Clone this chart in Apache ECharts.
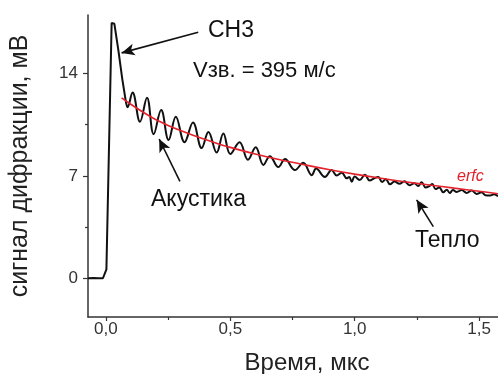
<!DOCTYPE html>
<html>
<head>
<meta charset="utf-8">
<script src="https://cdn.jsdelivr.net/npm/echarts@6/dist/echarts.min.js"></script>
<style>
  html, body { margin: 0; padding: 0; background: #fff; }
  #chart { width: 498px; height: 374px; }
</style>
</head>
<body>
<div id="chart"></div>
<script>
// импульс СН3 (время, мкс / сигнал, мВ)
var pulseTime  = [-0.072, -0.05, -0.03, -0.012, -0.004, 0.002, 0.023, 0.034, 0.05, 0.066, 0.08];
var pulseValue = [0, 0.02, 0, 0, 0.05, 0.6, 17.45, 17.4, 15.6, 13.6, 12.1];

// акустические колебания и тепловой хвост
var signalTime = [0.08, 0.087, 0.107, 0.137, 0.165, 0.192, 0.222, 0.252, 0.281, 0.316,
  0.35, 0.385, 0.412, 0.445, 0.472, 0.5, 0.537, 0.571, 0.602, 0.633,
  0.659, 0.693, 0.72, 0.76, 0.793, 0.827, 0.845, 0.88, 0.907, 0.928,
  0.948, 0.968, 0.978, 0.988, 1.0, 1.02, 1.041, 1.06, 1.08, 1.095,
  1.11, 1.125, 1.142, 1.16, 1.18, 1.2, 1.22, 1.24, 1.255, 1.269,
  1.285, 1.3, 1.312, 1.325, 1.34, 1.356, 1.37, 1.382, 1.395, 1.41,
  1.43, 1.45, 1.47, 1.49, 1.51, 1.525, 1.544, 1.56, 1.576];
var signalValue = [12.1, 11.7, 12.7, 10.7, 12.35, 9.85, 11.5, 9.45, 11.05, 9.3,
  10.65, 8.9, 10.0, 8.6, 9.9, 8.5, 9.3, 8.1, 8.95, 7.75,
  8.35, 7.6, 8.15, 7.4, 7.9, 7.05, 7.5, 6.93, 7.4, 7.02,
  7.22, 6.83, 6.92, 6.6, 6.95, 6.72, 7.08, 6.68, 6.85, 6.92,
  6.58, 6.77, 6.42, 6.62, 6.46, 6.64, 6.36, 6.5, 6.3, 6.57,
  6.2, 6.3, 6.44, 6.1, 6.2, 5.88, 6.05, 5.83, 6.03, 5.9,
  6.03, 5.83, 6.0, 5.76, 5.88, 5.68, 5.66, 5.75, 5.6];

// аппроксимация erfc
var fitTime  = [0.063, 0.1, 0.15, 0.2, 0.25, 0.3, 0.35, 0.4, 0.45, 0.5, 0.6, 0.7, 0.8, 0.9, 1.0, 1.1, 1.2, 1.3, 1.4, 1.5, 1.576];
var fitValue = [12.33, 11.9, 11.35, 10.85, 10.45, 10.1, 9.78, 9.48, 9.2, 8.95, 8.5, 8.1, 7.75, 7.42, 7.12, 6.85, 6.6, 6.38, 6.16, 5.95, 5.78];

var xMajor = [0, 0.5, 1.0, 1.5];
var xMinor = [0.25, 0.75, 1.25];
var yMajor = [0, 7, 14];
var yMinor = [3.5, 10.5];

function pairs(t, v) {
  var out = [];
  for (var i = 0; i < t.length; i++) out.push([t[i], v[i]]);
  return out;
}

var chart = echarts.init(document.getElementById('chart'));
var font = 'Liberation Sans, Arial, sans-serif';
var axisColor = '#333';

var option = {
  animation: false,
  grid: { left: 88, right: 0, top: 15, bottom: 57, outerBoundsMode: 'none', containLabel: false },
  xAxis: [{
    type: 'value', min: -0.072, max: 1.576,
    name: 'Время, мкс', nameLocation: 'middle', nameGap: 34,
    nameTextStyle: { fontFamily: font, fontSize: 24, color: '#222', padding: [0, 0, 0, 28] },
    axisLine: { onZero: false, lineStyle: { color: axisColor, width: 1.5 } },
    axisTick: { customValues: xMajor, length: 4, lineStyle: { color: axisColor, width: 1.2 } },
    axisLabel: {
      customValues: xMajor, margin: 4, fontFamily: font, fontSize: 17, color: '#333',
      formatter: function (v) { return v.toFixed(1).replace('.', ','); }
    },
    splitLine: { show: false }
  }, {
    type: 'value', min: -0.072, max: 1.576, position: 'bottom',
    axisLine: { show: false, onZero: false },
    axisTick: { customValues: xMinor, length: 3, lineStyle: { color: axisColor, width: 1.2 } },
    axisLabel: { show: false },
    splitLine: { show: false }
  }],
  yAxis: [{
    type: 'value', min: -2.65, max: 18,
    name: 'сигнал дифракции, мВ', nameLocation: 'middle', nameGap: 55,
    nameTextStyle: { fontFamily: font, fontSize: 25, color: '#222' },
    axisLine: { show: true, onZero: false, lineStyle: { color: axisColor, width: 1.5 } },
    axisTick: { show: true, customValues: yMajor, length: 5, lineStyle: { color: axisColor, width: 1.2 } },
    axisLabel: { customValues: yMajor, margin: 10, fontFamily: font, fontSize: 17, color: '#333' },
    splitLine: { show: false }
  }, {
    type: 'value', min: -2.65, max: 18, position: 'left',
    axisLine: { show: false, onZero: false },
    axisTick: { show: true, customValues: yMinor, length: 3, lineStyle: { color: axisColor, width: 1.2 } },
    axisLabel: { show: false },
    splitLine: { show: false }
  }],
  series: [{
    name: 'СН3', type: 'line', showSymbol: false,
    data: pairs(pulseTime, pulseValue),
    lineStyle: { color: '#111', width: 2 }
  }, {
    name: 'сигнал', type: 'line', showSymbol: false, smooth: 0.4,
    data: pairs(signalTime, signalValue),
    lineStyle: { color: '#111', width: 2 }
  }, {
    name: 'erfc', type: 'line', showSymbol: false, smooth: 0.3,
    data: pairs(fitTime, fitValue),
    lineStyle: { color: '#e3222b', width: 1.6 },
    z: 3,
    markLine: {
      silent: true, animation: false,
      symbol: ['none', 'arrow'], symbolSize: [9, 13],
      label: { show: false },
      lineStyle: { color: '#111', width: 1.6, type: 'solid' },
      data: [
        [{ coord: [0.371, 16.82] }, { coord: [0.063, 15.41] }],
        [{ coord: [0.2975, 6.62] }, { coord: [0.214, 9.52] }],
        [{ coord: [1.316, 3.53] }, { coord: [1.249, 5.36] }]
      ]
    }
  }],
  graphic: [
    { type: 'text', x: 208, y: 19, style: { text: 'СН3', font: '23px ' + font, fill: '#111' } },
    { type: 'text', x: 193, y: 60, style: { text: 'Vзв. = 395 м/с', font: '22px ' + font, fill: '#111' } },
    { type: 'text', x: 151, y: 188, style: { text: 'Акустика', font: '23px ' + font, fill: '#111' } },
    { type: 'text', x: 415, y: 229, style: { text: 'Тепло', font: '23px ' + font, fill: '#111' } },
    { type: 'text', x: 457, y: 169, style: { text: 'erfc', font: 'italic 16px ' + font, fill: '#e3222b' } }
  ]
};

chart.setOption(option);
</script>
</body>
</html>
